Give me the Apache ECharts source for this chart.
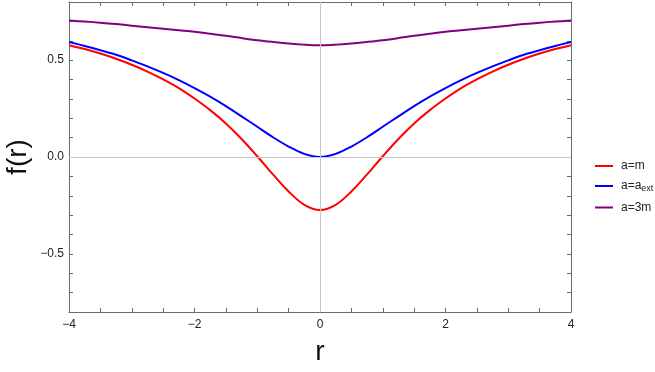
<!DOCTYPE html>
<html>
<head>
<meta charset="utf-8">
<script src="https://cdn.jsdelivr.net/npm/echarts@6/dist/echarts.min.js"></script>
<style>
html,body{margin:0;padding:0;background:#fff;}
#c{width:655px;height:372px;}
</style>
</head>
<body>
<div id="c"></div>
<script>
// r sample points
const rValues = [-4,-3.75,-3.5,-3.25,-3,-2.75,-2.5,-2.25,-2,-1.75,-1.5,-1.25,-1,-0.75,-0.5,-0.25,0,
  0.25,0.5,0.75,1,1.25,1.5,1.75,2,2.25,2.5,2.75,3,3.25,3.5,3.75,4];
// a = m
const fRed = [0.577,0.557,0.534,0.507,0.476,0.441,0.401,0.356,0.302,0.242,0.173,0.093,0.004,-0.090,-0.178,-0.247,-0.274,
  -0.247,-0.178,-0.090,0.004,0.093,0.173,0.242,0.302,0.356,0.401,0.441,0.476,0.507,0.534,0.557,0.577];
// a = a_ext
const fBlue = [0.594,0.573,0.551,0.528,0.499,0.468,0.434,0.397,0.356,0.312,0.263,0.210,0.156,0.102,0.054,0.016,0.000,
  0.016,0.054,0.102,0.156,0.210,0.263,0.312,0.356,0.397,0.434,0.468,0.499,0.528,0.551,0.573,0.594];
// a = 3m
const fPurple = [0.704,0.699,0.693,0.686,0.678,0.670,0.662,0.654,0.646,0.636,0.626,0.614,0.603,0.594,0.586,0.580,0.577,
  0.580,0.586,0.594,0.603,0.614,0.626,0.636,0.646,0.654,0.662,0.670,0.678,0.686,0.693,0.699,0.704];

const seriesNames = ['a=m', 'a=a_ext', 'a=3m'];
const seriesColors = ['#ff0000', '#0000ff', '#800080'];
const xTickLabels = [-4, -2, 0, 2, 4];
const yTickLabels = [-0.5, 0, 0.5];

const FONT = '"Liberation Sans", Arial, sans-serif';
const frameColor = '#6b6b6b';

function pairs(ys){ return rValues.map((r,i)=>[r, ys[i]]); }
function fmtMinus(s){ return s.replace('-', '\u2212'); }
function near(v, list){ return list.some(t => Math.abs(t - v) < 1e-6); }

const chart = echarts.init(document.getElementById('c'), null, {renderer:'canvas'});

const baseTick = {show:true, inside:true, length:4, lineStyle:{color:frameColor, width:1}};
const baseLine = {show:true, onZero:false, lineStyle:{color:frameColor, width:1}};

chart.setOption({
  animation:false,
  backgroundColor:'#ffffff',
  grid:{left:69, right:84, top:2, bottom:60, containLabel:false, outerBoundsMode:'none'},
  legend:{
    orient:'vertical', left:590, top:155,
    data:seriesNames,
    itemWidth:18, itemHeight:14, itemGap:8,
    icon:'path://M0,6 L18,6 L18,8 L0,8 Z',
    textStyle:{fontFamily:FONT, fontSize:12, color:'#222', padding:[0,0,0,3],
      rich:{
        n:{fontFamily:FONT, fontSize:12, color:'#222'},
        s:{fontFamily:FONT, fontSize:9, color:'#222', verticalAlign:'bottom', padding:[6,0,0,0]}
      }},
    formatter:function(name){
      if(name==='a=a_ext') return '{n|a=a}{s|ext}';
      return name;
    }
  },
  xAxis:[
    {type:'value', position:'bottom', min:-4, max:4, interval:0.5,
     axisLine:baseLine, axisTick:baseTick, splitLine:{show:false},
     axisLabel:{margin:7, fontFamily:FONT, fontSize:12, color:'#222',
       formatter:function(v){ return near(v, xTickLabels) ? fmtMinus(String(v)) : ''; }},
     name:'r', nameLocation:'middle', nameGap:26, nameMoveOverlap:false,
     nameTextStyle:{fontFamily:FONT, fontSize:28, color:'#111'}},
    {type:'value', position:'top', min:-4, max:4, interval:0.5,
     axisLine:baseLine, axisTick:baseTick, splitLine:{show:false}, axisLabel:{show:false}}
  ],
  yAxis:[
    {type:'value', position:'left', min:-0.8, max:0.8, interval:0.1,
     axisLine:baseLine, axisTick:baseTick, splitLine:{show:false},
     axisLabel:{margin:5, fontFamily:FONT, fontSize:12, color:'#222',
       formatter:function(v){ return near(v, yTickLabels) ? fmtMinus(v.toFixed(1)) : ''; }},
     name:'f(r)', nameLocation:'middle', nameGap:37, nameRotate:90, nameMoveOverlap:false,
     nameTextStyle:{fontFamily:FONT, fontSize:28, color:'#111'}},
    {type:'value', position:'right', min:-0.8, max:0.8, interval:0.1,
     axisLine:baseLine, axisTick:baseTick, splitLine:{show:false}, axisLabel:{show:false}}
  ],
  series:[
    {name:seriesNames[0], type:'line', data:pairs(fRed), smooth:0.35, symbol:'none',
     lineStyle:{color:seriesColors[0], width:2}, itemStyle:{color:seriesColors[0]},
     markLine:{silent:true, symbol:'none', label:{show:false}, animation:false,
       lineStyle:{color:'#c8c8c8', width:1, type:'solid'},
       data:[{xAxis:0},{yAxis:0}]}, z:2},
    {name:seriesNames[1], type:'line', data:pairs(fBlue), smooth:0.35, symbol:'none',
     lineStyle:{color:seriesColors[1], width:2}, itemStyle:{color:seriesColors[1]}, z:3},
    {name:seriesNames[2], type:'line', data:pairs(fPurple), smooth:0.35, symbol:'none',
     lineStyle:{color:seriesColors[2], width:2}, itemStyle:{color:seriesColors[2]}, z:4}
  ]
});
</script>
</body>
</html>
